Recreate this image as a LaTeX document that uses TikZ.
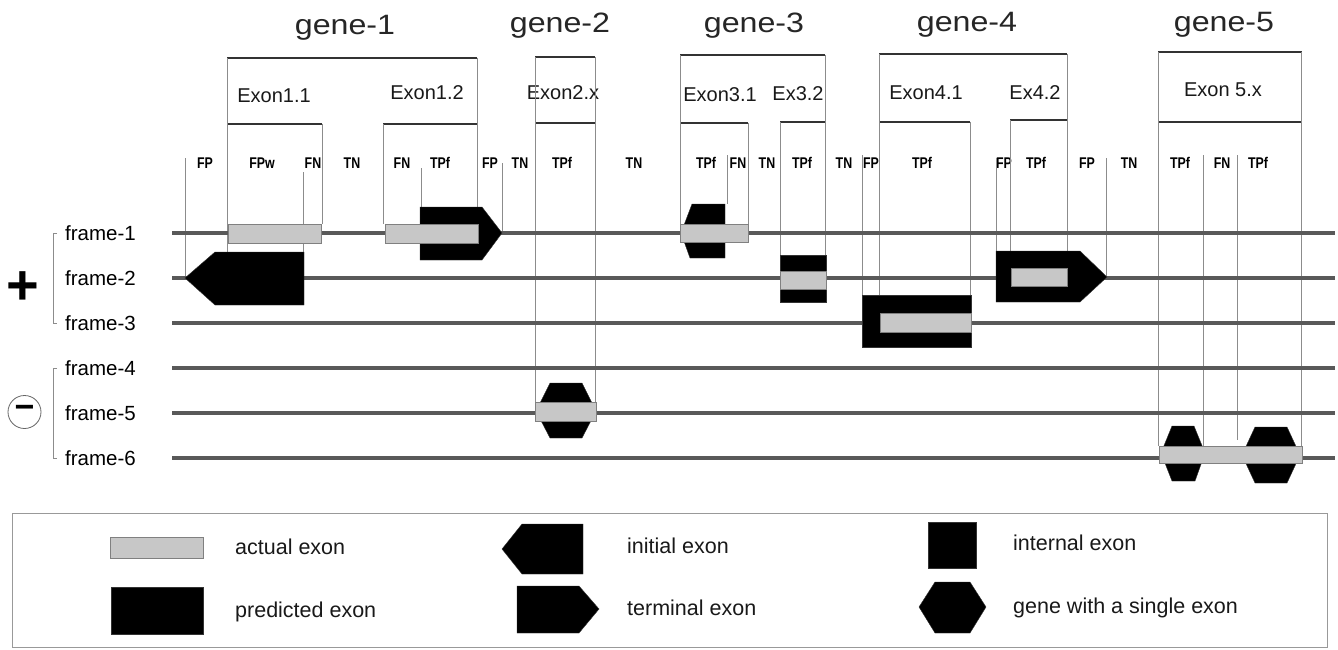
\documentclass[tikz,border=0pt]{standalone}
\usepackage{fontspec}
\setmainfont{Liberation Sans}
\newfontfamily\genefont[FakeStretch=1.15]{Liberation Sans}
\newfontfamily\tagfont[FakeStretch=0.8]{Liberation Sans}
\begin{document}
\begin{tikzpicture}[x=1pt,y=-1pt,
  frameline/.style={draw=black!65, line width=4.5pt},
  guide/.style={draw=black!45, line width=0.6pt},
  brk/.style={draw=black!80, line width=1.6pt},
  actual/.style={fill=black!22, draw=black!50, line width=0.6pt},
  pred/.style={fill=black, draw=black!80, line width=0.4pt},
  genelbl/.style={font=\genefont\fontsize{28}{32}\selectfont, anchor=base, inner sep=0pt, text=black!85},
  exonlbl/.style={font=\fontsize{20}{24}\selectfont, anchor=base, inner sep=0pt, text=black!90},
  taglbl/.style={font=\tagfont\bfseries\fontsize{15.5}{18}\selectfont, anchor=base, inner sep=0pt},
  framelbl/.style={font=\fontsize{20.5}{24}\selectfont, anchor=base west, inner sep=0pt},
  leglbl/.style={font=\fontsize{21.5}{26}\selectfont, anchor=base west, inner sep=0pt, text=black!90}
]
\useasboundingbox (0,0) rectangle (1338,650);
\fill[white] (0,0) rectangle (1338,650);

% ---------- gene labels ----------
\node[genelbl] (g1) at (345,35) {gene-1};
\node[genelbl] (g2) at (560,33) {gene-2};
\node[genelbl] (g3) at (754,33) {gene-3};
\node[genelbl] (g4) at (967,32) {gene-4};
\node[genelbl] (g5) at (1224,32) {gene-5};

% ---------- exon labels ----------
\node[exonlbl] (e11) at (274,103) {Exon1.1};
\node[exonlbl] (e12) at (427,100) {Exon1.2};
\node[exonlbl] (e2x) at (563,100) {Exon2.x};
\node[exonlbl] (e31) at (720,102) {Exon3.1};
\node[exonlbl] (e32) at (798,101) {Ex3.2};
\node[exonlbl] (e41) at (926,100) {Exon4.1};
\node[exonlbl] (e42) at (1035,100) {Ex4.2};
\node[exonlbl] (e5x) at (1223,97) {Exon 5.x};

% ---------- tags ----------
\foreach \xx/\tt [count=\i] in {205/FP,262/FPw,313/FN,352/TN,402/FN,440/TPf,490/FP,520/TN,
  562/TPf,634/TN,706/TPf,738/FN,767/TN,802/TPf,844/TN,871/FP,922/TPf,1004/FP,1036/TPf,
  1087/FP,1129/TN,1180/TPf,1222/FN,1258/TPf}
  \node[taglbl] (tag\i) at (\xx,168) {\tt};

% ---------- gene brackets ----------
\draw[brk] (227,58) -- (477,58);
\draw[brk] (227,124) -- (322,124);
\draw[brk] (383,124) -- (477,124);
\draw[brk] (535,57) -- (595,57);
\draw[brk] (535,123) -- (595,123);
\draw[brk] (680,55) -- (825,55);
\draw[brk] (680,123) -- (748,123);
\draw[brk] (780,122) -- (825,122);
\draw[brk] (879,54) -- (1067,54);
\draw[brk] (879,122) -- (970,122);
\draw[brk] (1010,120) -- (1067,120);
\draw[brk] (1158,52) -- (1302,52);
\draw[brk] (1158,122) -- (1301,122);

% ---------- guide lines ----------
\foreach \xx/\ya/\yb in {227/58/252, 477/58/207, 322/124/224, 383/124/224,
  185/158/278, 303/172/252, 421/168/207, 502/163/233,
  535/57/402, 595/57/402,
  680/55/224, 825/55/255, 748/123/224, 780/122/255, 727/155/204, 862/155/295,
  879/54/295, 1067/54/251, 970/122/295, 1010/120/251, 996/158/251, 1106/158/276,
  1158/52/446, 1301/52/446, 1203/155/446, 1237/155/440}
  \draw[guide] (\xx,\ya) -- (\xx,\yb);

% ---------- frame lines ----------
\foreach \yy/\nm [count=\i] in {233/frame-1,278/frame-2,323/frame-3,368/frame-4,413/frame-5,458/frame-6}{
  \draw[frameline] (172,\yy) -- (1335,\yy);
  \node[framelbl] (f\i) at (65,\yy+7) {\nm};
}

% strand brackets
\draw[guide] (57,233) -- (53,233) -- (53,323) -- (57,323);
\draw[guide] (57,368) -- (53,368) -- (53,458) -- (57,458);
\node[font=\bfseries\fontsize{56}{56}\selectfont, inner sep=0pt] (plus) at (23,288) {+};
\node[draw=black!60, line width=0.8pt, circle, minimum size=33pt, inner sep=0pt,
      font=\bfseries\fontsize{34}{34}\selectfont] (minus) at (24.5,412) {−};

% ---------- exons ----------
% gene-1
\path[pred] (185,278) -- (215,252) -- (304,252) -- (304,305) -- (215,305) -- cycle;
\path[actual] (228,224) rectangle (321,243);
\path[pred] (420,207) -- (482,207) -- (502,233) -- (482,260) -- (420,260) -- cycle;
\path[actual] (385,224) rectangle (478,243);
% gene-2
\path[pred] (550,383) -- (582,383) -- (596,411) -- (582,438) -- (550,438) -- (536,411) -- cycle;
\path[actual] (535,402) rectangle (596,421);
% gene-3
\path[pred] (725,204) -- (692,204) -- (681,233) -- (690,258) -- (725,258) -- cycle;
\path[actual] (680,224) rectangle (748,242);
\path[pred] (780,255) rectangle (826,302);
\path[actual] (780,271) rectangle (826,289);
% gene-4
\path[pred] (862,295) rectangle (971,347);
\path[actual] (880,313) rectangle (971,332);
\path[pred] (996,251) -- (1080,251) -- (1107,277) -- (1080,302) -- (996,302) -- cycle;
\path[actual] (1011,268) rectangle (1067,286);
% gene-5
\path[pred] (1172,426) -- (1194,426) -- (1205,453) -- (1195,481) -- (1172,481) -- (1161,453) -- cycle;
\path[pred] (1255,427) -- (1287,427) -- (1300,455) -- (1287,483) -- (1255,483) -- (1242,455) -- cycle;
\path[actual] (1159,446) rectangle (1302,463);

% ---------- legend ----------
\draw[draw=black!40, line width=0.8pt] (12,513) rectangle (1327,647);
\path[actual] (110,537) rectangle (203,558);
\node[leglbl] (l1) at (235,554) {actual exon};
\path[pred] (111,587) rectangle (203,634);
\node[leglbl] (l2) at (235,617) {predicted exon};
\path[pred] (502,549) -- (522,524) -- (583,524) -- (583,574) -- (522,574) -- cycle;
\node[leglbl] (l3) at (627,553) {initial exon};
\path[pred] (517,586) -- (579,586) -- (599,609) -- (579,633) -- (517,633) -- cycle;
\node[leglbl] (l4) at (627,615) {terminal exon};
\path[pred] (928,522) rectangle (976,568);
\node[leglbl] (l5) at (1013,550) {internal exon};
\path[pred] (935,582) -- (970,582) -- (986,607) -- (970,633) -- (935,633) -- (919,607) -- cycle;
\node[leglbl] (l6) at (1013,613) {gene with a single exon};
\end{tikzpicture}
\end{document}
